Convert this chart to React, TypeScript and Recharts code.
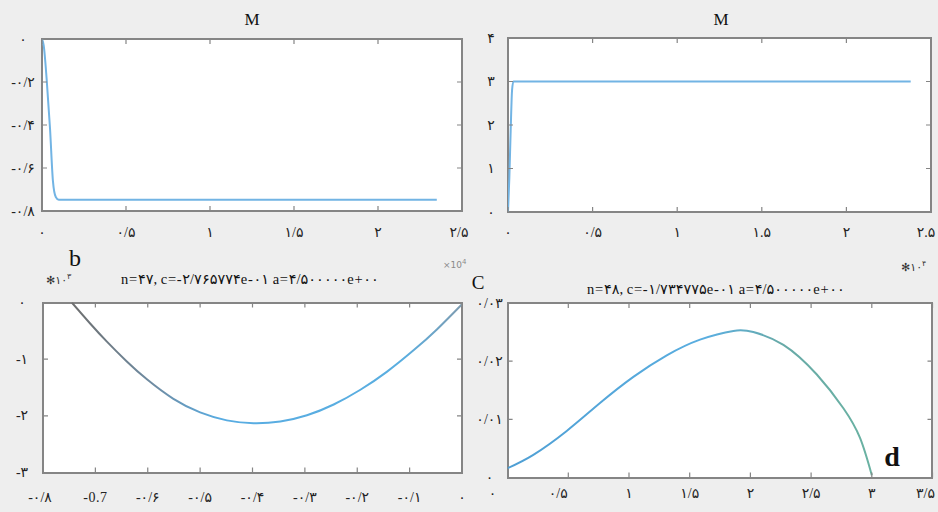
import React from 'react';
import { LineChart, Line, XAxis, YAxis } from 'recharts';

// ---- panel a (top-left): M, x in units of 1e4 ----
const aX = [0, 0.01, 0.028, 0.048, 0.065, 0.082, 0.1, 2.35];
const aY = [0, -0.03, -0.19, -0.42, -0.66, -0.735, -0.748, -0.748];
const aXTicks = [0, 0.5, 1, 1.5, 2, 2.5];
const aXLabels = ['۰', '۰/۵', '۱', '۱/۵', '۲', '۲/۵'];
const aYTicks = [-0.8, -0.6, -0.4, -0.2, 0];
const aYLabels = ['-۰/۸', '-۰/۶', '-۰/۴', '-۰/۲', '۰'];

// ---- panel b (top-right): M ----
const bX = [0, 0.008, 0.016, 0.024, 0.032, 2.38];
const bY = [0, 0.8, 1.9, 2.8, 3.0, 3.0];
const bXTicks = [0, 0.5, 1, 1.5, 2, 2.5];
const bXLabels = ['۰', '۰/۵', '۱', '۱.۵', '۲', '۲.۵'];
const bYTicks = [0, 1, 2, 3, 4];
const bYLabels = ['۰', '۱', '۲', '۳', '۴'];

// ---- panel c (bottom-left): n=47 ----
const cX = [-0.745, -0.71, -0.678, -0.64, -0.601, -0.551, -0.5, -0.449, -0.398, -0.347, -0.296, -0.245, -0.194, -0.143, -0.092, -0.048, 0];
const cY = [0, -0.37, -0.69, -1.04, -1.36, -1.70, -1.94, -2.08, -2.13, -2.10, -1.99, -1.80, -1.54, -1.22, -0.84, -0.475, -0.03];
const cXTicks = [-0.8, -0.7, -0.6, -0.5, -0.4, -0.3, -0.2, -0.1, 0];
const cXLabels = ['-۰/۸', '-0.7', '-۰/۶', '-۰/۵', '-۰/۴', '-۰/۳', '-۰/۲', '-۰/۱', '۰'];
const cYTicks = [-3, -2, -1, 0];
const cYLabels = ['-۳', '-۲', '-۱', '۰'];

// ---- panel d (bottom-right): n=48 ----
const dX = [0, 0.212, 0.487, 0.761, 1.036, 1.311, 1.585, 1.86, 2.024, 2.272, 2.547, 2.766, 2.903, 3.0];
const dY = [0.0016, 0.0039, 0.008, 0.0128, 0.0173, 0.021, 0.0237, 0.0252, 0.025, 0.0228, 0.0177, 0.0119, 0.0068, 0.0004];
const dXTicks = [0, 0.5, 1, 1.5, 2, 2.5, 3, 3.5];
const dXLabels = ['۰', '۰/۵', '۱', '۱/۵', '۲', '۲/۵', '۳', '۳/۵'];
const dYTicks = [0, 0.01, 0.02, 0.03];
const dYLabels = ['۰', '۰/۰۱', '۰/۰۲', '۰/۰۳'];

const FONT = "'Liberation Serif', 'DejaVu Sans', serif";
const FRAME = '#858585';
const AX_W = 30;
const AX_H = 30;

const rows = (xs: number[], ys: number[]) => xs.map((x, i) => ({ x, y: ys[i] }));

const panels = [
  {
    id: 'a', left: 0, top: 0, width: 469, height: 250,
    margin: { top: 39, right: 7, bottom: 9, left: 12 },
    data: rows(aX, aY), xDomain: [0, 2.5], yDomain: [-0.8, 0],
    xTicks: aXTicks, xLabels: aXLabels, yTicks: aYTicks, yLabels: aYLabels,
    xGap: 21, yOff: 19, xShift: [0, 0, 0, 0, 0, -3] as number[], stroke: '#72b4e4', curve: 'monotone',
  },
  {
    id: 'b', left: 469, top: 0, width: 469, height: 250,
    margin: { top: 38, right: 7, bottom: 8, left: 9 },
    data: rows(bX, bY), xDomain: [0, 2.5], yDomain: [0, 4],
    xTicks: bXTicks, xLabels: bXLabels, yTicks: bYTicks, yLabels: bYLabels,
    xGap: 20, yOff: 17, xShift: [0, 0, 0, 0, 0, -5] as number[], stroke: '#72b4e4', curve: 'monotone',
  },
  {
    id: 'c', left: 0, top: 250, width: 469, height: 262,
    margin: { top: 52.5, right: 7, bottom: 9.5, left: 13 },
    data: rows(cX, cY), xDomain: [-0.8, 0], yDomain: [-3, 0],
    xTicks: cXTicks, xLabels: cXLabels, yTicks: cYTicks, yLabels: cYLabels,
    xGap: 25, yOff: 21, xShift: [-3] as number[], stroke: 'url(#gradC)', curve: 'natural',
  },
  {
    id: 'd', left: 469, top: 250, width: 469, height: 262,
    margin: { top: 53, right: 5.5, bottom: 4.5, left: 8.6 },
    data: rows(dX, dY), xDomain: [0, 3.5], yDomain: [0, 0.03],
    xTicks: dXTicks, xLabels: dXLabels, yTicks: dYTicks, yLabels: dYLabels,
    xGap: 16, yOff: 18, xShift: [-15, -10, 0, 0, 0, 0, 0, -7] as number[], stroke: 'url(#gradD)', curve: 'natural',
  },
];

function Panel({ p }: { p: (typeof panels)[number] }) {
  const plotX = p.margin.left + AX_W;
  const plotY = p.margin.top;
  const plotW = p.width - p.margin.left - p.margin.right - AX_W;
  const plotH = p.height - p.margin.top - p.margin.bottom - AX_H;

  // inward tick marks on both opposite sides
  const xTick = (t: any) => {
    const { x, y, index } = t;
    return (
      <g>
        <path d={`M${x},${y}v-5M${x},${y - plotH}v5`} stroke={FRAME} strokeWidth={1.2} fill="none" />
        <text x={x + (p.xShift[index] ?? 0)} y={y + p.xGap} textAnchor="middle" dominantBaseline="central"
          fontSize={14} letterSpacing={0.5} fontFamily={FONT} fill="#222">{p.xLabels[index]}</text>
      </g>
    );
  };

  const yTick = (t: any) => {
    const { x, y, index } = t;
    return (
      <g>
        <path d={`M${x},${y}h5M${x + plotW},${y}h-5`} stroke={FRAME} strokeWidth={1.2} fill="none" />
        <text x={x - p.yOff} y={y} textAnchor="middle" dominantBaseline="central"
          fontSize={14} letterSpacing={0.5} fontFamily={FONT} fill="#222">{p.yLabels[index]}</text>
      </g>
    );
  };

  return (
    <div style={{ position: 'absolute', left: p.left, top: p.top, width: p.width, height: p.height }}>
      {/* white axes box with grey frame, behind the chart svg */}
      <div style={{
        position: 'absolute', left: plotX - 1, top: plotY - 1, width: plotW + 2, height: plotH + 2,
        boxSizing: 'border-box', background: '#ffffff', border: `2px solid ${FRAME}`,
      }} />
      <div style={{ position: 'absolute', left: 0, top: 0 }}>
        <LineChart width={p.width} height={p.height} data={p.data} margin={p.margin}>
          <defs>
            <linearGradient id="gradC" x1="0" y1="0" x2="1" y2="0">
              <stop offset="0%" stopColor="#6e6e6e" />
              <stop offset="22%" stopColor="#6f8ea6" />
              <stop offset="38%" stopColor="#58ace2" />
              <stop offset="85%" stopColor="#5aaee0" />
              <stop offset="100%" stopColor="#7f9cb0" />
            </linearGradient>
            <linearGradient id="gradD" x1="0" y1="0" x2="1" y2="0">
              <stop offset="0%" stopColor="#4f9fd4" />
              <stop offset="55%" stopColor="#5aaee0" />
              <stop offset="75%" stopColor="#68aaa8" />
              <stop offset="100%" stopColor="#6ab2a2" />
            </linearGradient>
          </defs>
          <XAxis
            dataKey="x" type="number" domain={p.xDomain} ticks={p.xTicks} interval={0}
            allowDataOverflow height={AX_H} axisLine={false} tickLine={false}
            tickSize={0} tickMargin={0} tick={xTick}
          />
          <YAxis
            type="number" domain={p.yDomain} ticks={p.yTicks} interval={0}
            allowDataOverflow width={AX_W} axisLine={false} tickLine={false}
            tickSize={0} tickMargin={0} tick={yTick}
          />
          <Line
            type={p.curve as any} dataKey="y" stroke={p.stroke} strokeWidth={2}
            dot={false} isAnimationActive={false}
          />
        </LineChart>
      </div>
    </div>
  );
}

export default function App() {
  return (
    <div style={{ position: 'absolute', left: 0, top: 0, width: 938, height: 512, background: '#eeeeee', overflow: 'hidden' }}>
      {panels.map((p) => <Panel key={p.id} p={p} />)}
      <svg width={938} height={512} style={{ position: 'absolute', left: 0, top: 0, pointerEvents: 'none' }}
        fontFamily={FONT}>
        <text x={252} y={25} textAnchor="middle" fontSize={17} fill="#111">M</text>
        <text x={721} y={25} textAnchor="middle" fontSize={17} fill="#111">M</text>
        <text x={75} y={266} textAnchor="middle" fontSize={24} fill="#111">b</text>
        <text x={478} y={289} textAnchor="middle" fontSize={19} fill="#111">C</text>
        <text x={892} y={466} textAnchor="middle" fontSize={28} fontWeight="bold" fill="#111">d</text>
        <text x={443} y={268} fontSize={9} fill="#8a8a8a" fontFamily="'DejaVu Sans', sans-serif">
          ×10<tspan dy={-4} fontSize={7}>4</tspan>
        </text>
        <text x={901} y={271} fontSize={11} fill="#333">
          ✻۱۰<tspan dy={-5} fontSize={8}>۴</tspan>
        </text>
        <text x={46} y={284} fontSize={11} fill="#333">
          ✻۱۰<tspan dy={-5} fontSize={8}>۳</tspan>
        </text>
        <text x={250} y={284} textAnchor="middle" fontSize={14.5} letterSpacing={0.7} fill="#111">
          n=۴۷, c=-۲/۷۶۵۷۷۴e-۰۱  a=۴/۵۰۰۰۰۰e+۰۰
        </text>
        <text x={716} y={294} textAnchor="middle" fontSize={14.5} letterSpacing={0.7} fill="#111">
          n=۴۸, c=-۱/۷۳۴۷۷۵e-۰۱  a=۴/۵۰۰۰۰۰e+۰۰
        </text>
      </svg>
    </div>
  );
}
